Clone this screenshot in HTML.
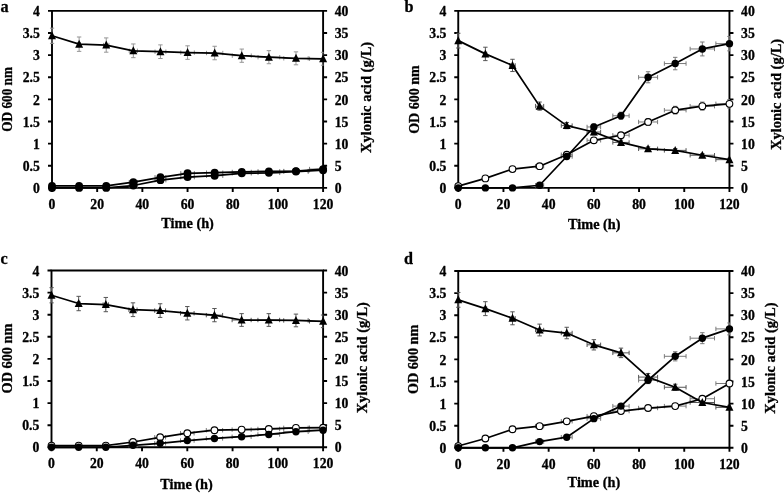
<!DOCTYPE html>
<html lang="en"><head><meta charset="utf-8"><title>Figure</title>
<style>html,body{margin:0;padding:0;background:#fff}body{width:784px;height:493px;overflow:hidden}svg{display:block}text{stroke:#000;stroke-width:.3px;stroke-linejoin:round}</style>
</head><body>
<svg width="784" height="493" viewBox="0 0 784 493" font-family="'Liberation Serif', serif" font-weight="bold" fill="#000">
<rect width="784" height="493" fill="#fff" stroke="none"/>
<g id="panel-a">
<text x="0.4" y="11.8" font-size="16.2">a</text>
<g stroke="#000" stroke-width="1.9" fill="none" stroke-linecap="butt">
<path d="M52 10.9H323.1V187.9H52Z"/>
<path d="M48 187.9H52M323.1 187.9H327.1M48 165.78H52M323.1 165.78H327.1M48 143.65H52M323.1 143.65H327.1M48 121.53H52M323.1 121.53H327.1M48 99.4H52M323.1 99.4H327.1M48 77.28H52M323.1 77.28H327.1M48 55.15H52M323.1 55.15H327.1M48 33.03H52M323.1 33.03H327.1M48 10.9H52M323.1 10.9H327.1M52 187.9V191.9M97.18 187.9V191.9M142.37 187.9V191.9M187.55 187.9V191.9M232.73 187.9V191.9M277.92 187.9V191.9M323.1 187.9V191.9"/>
</g>
<g font-size="13.7">
<text x="39.8" y="193" text-anchor="end">0</text>
<text x="334.7" y="193">0</text>
<text x="39.8" y="170.88" text-anchor="end">0.5</text>
<text x="334.7" y="170.88">5</text>
<text x="39.8" y="148.75" text-anchor="end">1</text>
<text x="334.7" y="148.75">10</text>
<text x="39.8" y="126.62" text-anchor="end">1.5</text>
<text x="334.7" y="126.62">15</text>
<text x="39.8" y="104.5" text-anchor="end">2</text>
<text x="334.7" y="104.5">20</text>
<text x="39.8" y="82.38" text-anchor="end">2.5</text>
<text x="334.7" y="82.38">25</text>
<text x="39.8" y="60.25" text-anchor="end">3</text>
<text x="334.7" y="60.25">30</text>
<text x="39.8" y="38.13" text-anchor="end">3.5</text>
<text x="334.7" y="38.13">35</text>
<text x="39.8" y="16" text-anchor="end">4</text>
<text x="334.7" y="16">40</text>
<text x="52" y="208.7" text-anchor="middle">0</text>
<text x="97.18" y="208.7" text-anchor="middle">20</text>
<text x="142.37" y="208.7" text-anchor="middle">40</text>
<text x="187.55" y="208.7" text-anchor="middle">60</text>
<text x="232.73" y="208.7" text-anchor="middle">80</text>
<text x="277.92" y="208.7" text-anchor="middle">100</text>
<text x="323.1" y="208.7" text-anchor="middle">120</text>
</g>
<text x="187.6" y="228.4" font-size="14.3" text-anchor="middle">Time (h)</text>
<text transform="translate(11.5 99.4) rotate(-90) scale(0.927 1)" font-size="14.3" text-anchor="middle">OD 600 nm</text>
<text transform="translate(370.8 97.4) rotate(-90)" font-size="14.5" text-anchor="middle">Xylonic acid (g/L)</text>
<clipPath id="clip-a"><rect x="49.8" y="10.9" width="273.7" height="177.4"/></clipPath>
<path d="M77.75 185.91H80.47M77.75 183.71V188.11M80.47 183.71V188.11M103.51 185.91H108.93M103.51 183.71V188.11M108.93 183.71V188.11M129.26 182.15H137.4M129.26 179.95V184.35M137.4 179.95V184.35M155.02 177.28H165.86M155.02 175.08V179.48M165.86 175.08V179.48M160.44 176.75V177.81M158.24 176.75H162.64M158.24 177.81H162.64M180.77 173.3H194.33M180.77 171.1V175.5M194.33 171.1V175.5M187.55 172.57V174.03M185.35 172.57H189.75M185.35 174.03H189.75M206.53 172.68H222.79M206.53 170.48V174.88M222.79 170.48V174.88M214.66 171.92V173.44M212.46 171.92H216.86M212.46 173.44H216.86M232.28 171.97H251.26M232.28 169.77V174.17M251.26 169.77V174.17M241.77 171.17V172.77M239.57 171.17H243.97M239.57 172.77H243.97M258.04 171.35H279.72M258.04 169.15V173.55M279.72 169.15V173.55M268.88 170.52V172.18M266.68 170.52H271.08M266.68 172.18H271.08M283.79 171.09H308.19M283.79 168.89V173.28M308.19 168.89V173.28M295.99 170.24V171.93M293.79 170.24H298.19M293.79 171.93H298.19M309.55 169.09H336.66M309.55 166.89V171.29M336.66 166.89V171.29M323.1 168.15V170.03M320.9 168.15H325.3M320.9 170.03H325.3" stroke="#7a7a7a" stroke-width="1" fill="none" clip-path="url(#clip-a)"/>
<path d="M52 28.16V43.38M49.8 28.16H54.2M49.8 43.38H54.2M77.75 44.18H80.47M77.75 41.98V46.38M80.47 41.98V46.38M79.11 36.99V51.36M76.91 36.99H81.31M76.91 51.36H81.31M103.51 45.06H108.93M103.51 42.86V47.26M108.93 42.86V47.26M106.22 37.92V52.2M104.02 37.92H108.42M104.02 52.2H108.42M129.26 50.81H137.4M129.26 48.61V53.01M137.4 48.61V53.01M133.33 43.96V57.67M131.13 43.96H135.53M131.13 57.67H135.53M155.02 51.7H165.86M155.02 49.5V53.9M165.86 49.5V53.9M160.44 44.89V58.51M158.24 44.89H162.64M158.24 58.51H162.64M180.77 52.58H194.33M180.77 50.38V54.78M194.33 50.38V54.78M187.55 45.82V59.35M185.35 45.82H189.75M185.35 59.35H189.75M206.53 53.03H222.79M206.53 50.83V55.23M222.79 50.83V55.23M214.66 46.28V59.77M212.46 46.28H216.86M212.46 59.77H216.86M232.28 55.68H251.26M232.28 53.48V57.88M251.26 53.48V57.88M241.77 49.07V62.29M239.57 49.07H243.97M239.57 62.29H243.97M258.04 57.19H279.72M258.04 54.99V59.39M279.72 54.99V59.39M268.88 50.65V63.72M266.68 50.65H271.08M266.68 63.72H271.08M283.79 58.34H308.19M283.79 56.14V60.54M308.19 56.14V60.54M295.99 51.86V64.81M293.79 51.86H298.19M293.79 64.81H298.19M309.55 58.78H336.66M309.55 56.58V60.98M336.66 56.58V60.98M323.1 52.32V65.23M320.9 52.32H325.3M320.9 65.23H325.3" stroke="#959595" stroke-width="1" fill="none" clip-path="url(#clip-a)"/>
<path d="M77.75 187.9H80.47M77.75 185.7V190.1M80.47 185.7V190.1M103.51 187.9H108.93M103.51 185.7V190.1M108.93 185.7V190.1M129.26 185.51H137.4M129.26 183.31V187.71M137.4 183.31V187.71M155.02 180.16H165.86M155.02 177.96V182.36M165.86 177.96V182.36M160.44 179.77V180.54M158.24 179.77H162.64M158.24 180.54H162.64M180.77 177.1H194.33M180.77 174.9V179.3M194.33 174.9V179.3M187.55 176.56V177.64M185.35 176.56H189.75M185.35 177.64H189.75M206.53 175.73H222.79M206.53 173.53V177.93M222.79 173.53V177.93M214.66 175.12V176.34M212.46 175.12H216.86M212.46 176.34H216.86M232.28 173.3H251.26M232.28 171.1V175.5M251.26 171.1V175.5M241.77 172.57V174.03M239.57 172.57H243.97M239.57 174.03H243.97M258.04 172.86H279.72M258.04 170.66V175.06M279.72 170.66V175.06M268.88 172.1V173.61M266.68 172.1H271.08M266.68 173.61H271.08M283.79 171.53H308.19M283.79 169.33V173.73M308.19 169.33V173.73M295.99 170.71V172.35M293.79 170.71H298.19M293.79 172.35H298.19M309.55 170.2H336.66M309.55 168V172.4M336.66 168V172.4M323.1 169.32V171.09M320.9 169.32H325.3M320.9 171.09H325.3" stroke="#7a7a7a" stroke-width="1" fill="none" clip-path="url(#clip-a)"/>
<polyline points="52,185.91 79.11,185.91 106.22,185.91 133.33,182.15 160.44,177.28 187.55,173.3 214.66,172.68 241.77,171.97 268.88,171.35 295.99,171.09 323.1,169.09" fill="none" stroke="#000" stroke-width="1.75" stroke-linejoin="round"/>
<circle cx="52" cy="185.91" r="3.95" fill="#000"/>
<circle cx="79.11" cy="185.91" r="3.95" fill="#000"/>
<circle cx="106.22" cy="185.91" r="3.95" fill="#000"/>
<circle cx="133.33" cy="182.15" r="3.95" fill="#000"/>
<circle cx="160.44" cy="177.28" r="3.95" fill="#000"/>
<circle cx="187.55" cy="173.3" r="3.95" fill="#000"/>
<circle cx="214.66" cy="172.68" r="3.95" fill="#000"/>
<circle cx="241.77" cy="171.97" r="3.95" fill="#000"/>
<circle cx="268.88" cy="171.35" r="3.95" fill="#000"/>
<circle cx="295.99" cy="171.09" r="3.95" fill="#000"/>
<circle cx="323.1" cy="169.09" r="3.95" fill="#000"/>
<polyline points="52,35.77 79.11,44.18 106.22,45.06 133.33,50.81 160.44,51.7 187.55,52.58 214.66,53.03 241.77,55.68 268.88,57.19 295.99,58.34 323.1,58.78" fill="none" stroke="#000" stroke-width="1.75" stroke-linejoin="round"/>
<path d="M52 31.27L56 39.27H48Z" fill="#000"/>
<path d="M79.11 39.68L83.11 47.68H75.11Z" fill="#000"/>
<path d="M106.22 40.56L110.22 48.56H102.22Z" fill="#000"/>
<path d="M133.33 46.31L137.33 54.31H129.33Z" fill="#000"/>
<path d="M160.44 47.2L164.44 55.2H156.44Z" fill="#000"/>
<path d="M187.55 48.08L191.55 56.08H183.55Z" fill="#000"/>
<path d="M214.66 48.53L218.66 56.53H210.66Z" fill="#000"/>
<path d="M241.77 51.18L245.77 59.18H237.77Z" fill="#000"/>
<path d="M268.88 52.69L272.88 60.69H264.88Z" fill="#000"/>
<path d="M295.99 53.84L299.99 61.84H291.99Z" fill="#000"/>
<path d="M323.1 54.28L327.1 62.28H319.1Z" fill="#000"/>
<polyline points="52,187.9 79.11,187.9 106.22,187.9 133.33,185.51 160.44,180.16 187.55,177.1 214.66,175.73 241.77,173.3 268.88,172.86 295.99,171.53 323.1,170.2" fill="none" stroke="#000" stroke-width="1.75" stroke-linejoin="round"/>
<circle cx="52" cy="187.9" r="3.95" fill="#000"/>
<circle cx="79.11" cy="187.9" r="3.95" fill="#000"/>
<circle cx="106.22" cy="187.9" r="3.95" fill="#000"/>
<circle cx="133.33" cy="185.51" r="3.95" fill="#000"/>
<circle cx="160.44" cy="180.16" r="3.95" fill="#000"/>
<circle cx="187.55" cy="177.1" r="3.95" fill="#000"/>
<circle cx="214.66" cy="175.73" r="3.95" fill="#000"/>
<circle cx="241.77" cy="173.3" r="3.95" fill="#000"/>
<circle cx="268.88" cy="172.86" r="3.95" fill="#000"/>
<circle cx="295.99" cy="171.53" r="3.95" fill="#000"/>
<circle cx="323.1" cy="170.2" r="3.95" fill="#000"/>
</g>
<g id="panel-b">
<text x="404.4" y="11.8" font-size="16.2">b</text>
<g stroke="#000" stroke-width="1.9" fill="none" stroke-linecap="butt">
<path d="M458.25 10.9H729.45V187.9H458.25Z"/>
<path d="M454.25 187.9H458.25M729.45 187.9H733.45M454.25 165.78H458.25M729.45 165.78H733.45M454.25 143.65H458.25M729.45 143.65H733.45M454.25 121.53H458.25M729.45 121.53H733.45M454.25 99.4H458.25M729.45 99.4H733.45M454.25 77.28H458.25M729.45 77.28H733.45M454.25 55.15H458.25M729.45 55.15H733.45M454.25 33.03H458.25M729.45 33.03H733.45M454.25 10.9H458.25M729.45 10.9H733.45M458.25 187.9V191.9M503.45 187.9V191.9M548.65 187.9V191.9M593.85 187.9V191.9M639.05 187.9V191.9M684.25 187.9V191.9M729.45 187.9V191.9"/>
</g>
<g font-size="13.7">
<text x="446.4" y="193" text-anchor="end">0</text>
<text x="741.05" y="193">0</text>
<text x="446.4" y="170.88" text-anchor="end">0.5</text>
<text x="741.05" y="170.88">5</text>
<text x="446.4" y="148.75" text-anchor="end">1</text>
<text x="741.05" y="148.75">10</text>
<text x="446.4" y="126.62" text-anchor="end">1.5</text>
<text x="741.05" y="126.62">15</text>
<text x="446.4" y="104.5" text-anchor="end">2</text>
<text x="741.05" y="104.5">20</text>
<text x="446.4" y="82.38" text-anchor="end">2.5</text>
<text x="741.05" y="82.38">25</text>
<text x="446.4" y="60.25" text-anchor="end">3</text>
<text x="741.05" y="60.25">30</text>
<text x="446.4" y="38.13" text-anchor="end">3.5</text>
<text x="741.05" y="38.13">35</text>
<text x="446.4" y="16" text-anchor="end">4</text>
<text x="741.05" y="16">40</text>
<text x="458.25" y="208.7" text-anchor="middle">0</text>
<text x="503.45" y="208.7" text-anchor="middle">20</text>
<text x="548.65" y="208.7" text-anchor="middle">40</text>
<text x="593.85" y="208.7" text-anchor="middle">60</text>
<text x="639.05" y="208.7" text-anchor="middle">80</text>
<text x="684.25" y="208.7" text-anchor="middle">100</text>
<text x="729.45" y="208.7" text-anchor="middle">120</text>
</g>
<text x="594.25" y="229.4" font-size="14.3" text-anchor="middle">Time (h)</text>
<text transform="translate(418.8 99.6) rotate(-90) scale(0.979 1)" font-size="14.3" text-anchor="middle">OD 600 nm</text>
<text transform="translate(780.8 94.4) rotate(-90)" font-size="14.5" text-anchor="middle">Xylonic acid (g/L)</text>
<clipPath id="clip-b"><rect x="456.05" y="10.9" width="273.8" height="177.4"/></clipPath>
<path d="M484.01 178.39H486.73M484.01 176.19V180.59M486.73 176.19V180.59M485.37 177.91V178.86M483.17 177.91H487.57M483.17 178.86H487.57M509.78 169.09H515.2M509.78 166.89V171.29M515.2 166.89V171.29M512.49 168.15V170.03M510.29 168.15H514.69M510.29 170.03H514.69M535.54 166.22H543.68M535.54 164.02V168.42M543.68 164.02V168.42M539.61 165.13V167.3M537.41 165.13H541.81M537.41 167.3H541.81M561.31 154.71H572.15M561.31 152.51V156.91M572.15 152.51V156.91M566.73 153.05V156.37M564.53 153.05H568.93M564.53 156.37H568.93M587.07 140.29H600.63M587.07 138.09V142.49M600.63 138.09V142.49M593.85 137.91V142.67M591.65 137.91H596.05M591.65 142.67H596.05M612.83 135.24H629.11M612.83 133.04V137.44M629.11 133.04V137.44M620.97 132.61V137.88M618.77 132.61H623.17M618.77 137.88H623.17M638.6 121.97H657.58M638.6 119.77V124.17M657.58 119.77V124.17M648.09 118.67V125.26M645.89 118.67H650.29M645.89 125.26H650.29M664.36 110.2H686.06M664.36 108V112.4M686.06 108V112.4M675.21 106.31V114.08M673.01 106.31H677.41M673.01 114.08H677.41M690.13 106.17H714.53M690.13 103.97V108.37M714.53 103.97V108.37M702.33 102.08V110.26M700.13 102.08H704.53M700.13 110.26H704.53M715.89 103.83H743.01M715.89 101.62V106.03M743.01 101.62V106.03M729.45 99.62V108.03M727.25 99.62H731.65M727.25 108.03H731.65" stroke="#7a7a7a" stroke-width="1" fill="none" clip-path="url(#clip-b)"/>
<path d="M458.25 33.27V48M456.05 33.27H460.45M456.05 48H460.45M484.01 53.91H486.73M484.01 51.71V56.11M486.73 51.71V56.11M485.37 47.21V60.61M483.17 47.21H487.57M483.17 60.61H487.57M509.78 65.42H515.2M509.78 63.22V67.62M515.2 63.22V67.62M512.49 59.29V71.54M510.29 59.29H514.69M510.29 71.54H514.69M535.54 106.13H543.68M535.54 103.93V108.33M543.68 103.93V108.33M539.61 102.04V110.21M537.41 102.04H541.81M537.41 110.21H541.81M561.31 125.6H572.15M561.31 123.4V127.8M572.15 123.4V127.8M566.73 122.48V128.71M564.53 122.48H568.93M564.53 128.71H568.93M587.07 132.01H600.63M587.07 129.81V134.21M600.63 129.81V134.21M593.85 129.22V134.81M591.65 129.22H596.05M591.65 134.81H596.05M612.83 142.41H629.11M612.83 140.21V144.61M629.11 140.21V144.61M620.97 140.14V144.69M618.77 140.14H623.17M618.77 144.69H623.17M638.6 148.83H657.58M638.6 146.63V151.03M657.58 146.63V151.03M648.09 146.87V150.78M645.89 146.87H650.29M645.89 150.78H650.29M664.36 150.38H686.06M664.36 148.18V152.58M686.06 148.18V152.58M675.21 148.5V152.25M673.01 148.5H677.41M673.01 152.25H677.41M690.13 155.24H714.53M690.13 153.04V157.44M714.53 153.04V157.44M702.33 153.61V156.88M700.13 153.61H704.53M700.13 156.88H704.53M715.89 159.67H743.01M715.89 157.47V161.87M743.01 157.47V161.87M729.45 158.26V161.08M727.25 158.26H731.65M727.25 161.08H731.65" stroke="#555" stroke-width="1" fill="none" clip-path="url(#clip-b)"/>
<path d="M484.01 187.9H486.73M484.01 185.7V190.1M486.73 185.7V190.1M509.78 187.9H515.2M509.78 185.7V190.1M515.2 185.7V190.1M535.54 185.25H543.68M535.54 183.05V187.44M543.68 183.05V187.44M561.31 156.48H572.15M561.31 154.28V158.68M572.15 154.28V158.68M566.73 154.91V158.05M564.53 154.91H568.93M564.53 158.05H568.93M587.07 126.97H600.63M587.07 124.77V129.17M600.63 124.77V129.17M593.85 123.92V130.01M591.65 123.92H596.05M591.65 130.01H596.05M612.83 115.77H629.11M612.83 113.57V117.97M629.11 113.57V117.97M620.97 112.17V119.38M618.77 112.17H623.17M618.77 119.38H623.17M638.6 77.28H657.58M638.6 75.08V79.48M657.58 75.08V79.48M648.09 71.74V82.81M645.89 71.74H650.29M645.89 82.81H650.29M664.36 63.56H686.06M664.36 61.36V65.76M686.06 61.36V65.76M675.21 57.34V69.77M673.01 57.34H677.41M673.01 69.77H677.41M690.13 48.96H714.53M690.13 46.76V51.16M714.53 46.76V51.16M702.33 42.01V55.9M700.13 42.01H704.53M700.13 55.9H704.53M715.89 43.65H743.01M715.89 41.45V45.85M743.01 41.45V45.85M729.45 36.43V50.86M727.25 36.43H731.65M727.25 50.86H731.65" stroke="#7a7a7a" stroke-width="1" fill="none" clip-path="url(#clip-b)"/>
<polyline points="458.25,186.13 485.37,178.39 512.49,169.09 539.61,166.22 566.73,154.71 593.85,140.29 620.97,135.24 648.09,121.97 675.21,110.2 702.33,106.17 729.45,103.83" fill="none" stroke="#000" stroke-width="1.75" stroke-linejoin="round"/>
<circle cx="458.25" cy="186.13" r="3.35" fill="#fff" stroke="#000" stroke-width="1.1"/>
<circle cx="485.37" cy="178.39" r="3.35" fill="#fff" stroke="#000" stroke-width="1.1"/>
<circle cx="512.49" cy="169.09" r="3.35" fill="#fff" stroke="#000" stroke-width="1.1"/>
<circle cx="539.61" cy="166.22" r="3.35" fill="#fff" stroke="#000" stroke-width="1.1"/>
<circle cx="566.73" cy="154.71" r="3.35" fill="#fff" stroke="#000" stroke-width="1.1"/>
<circle cx="593.85" cy="140.29" r="3.35" fill="#fff" stroke="#000" stroke-width="1.1"/>
<circle cx="620.97" cy="135.24" r="3.35" fill="#fff" stroke="#000" stroke-width="1.1"/>
<circle cx="648.09" cy="121.97" r="3.35" fill="#fff" stroke="#000" stroke-width="1.1"/>
<circle cx="675.21" cy="110.2" r="3.35" fill="#fff" stroke="#000" stroke-width="1.1"/>
<circle cx="702.33" cy="106.17" r="3.35" fill="#fff" stroke="#000" stroke-width="1.1"/>
<circle cx="729.45" cy="103.83" r="3.35" fill="#fff" stroke="#000" stroke-width="1.1"/>
<polyline points="458.25,40.64 485.37,53.91 512.49,65.42 539.61,106.13 566.73,125.6 593.85,132.01 620.97,142.41 648.09,148.83 675.21,150.38 702.33,155.24 729.45,159.67" fill="none" stroke="#000" stroke-width="1.75" stroke-linejoin="round"/>
<path d="M458.25 36.14L462.25 44.14H454.25Z" fill="#000"/>
<path d="M485.37 49.41L489.37 57.41H481.37Z" fill="#000"/>
<path d="M512.49 60.92L516.49 68.92H508.49Z" fill="#000"/>
<path d="M539.61 101.63L543.61 109.63H535.61Z" fill="#000"/>
<path d="M566.73 121.1L570.73 129.1H562.73Z" fill="#000"/>
<path d="M593.85 127.51L597.85 135.51H589.85Z" fill="#000"/>
<path d="M620.97 137.91L624.97 145.91H616.97Z" fill="#000"/>
<path d="M648.09 144.33L652.09 152.33H644.09Z" fill="#000"/>
<path d="M675.21 145.88L679.21 153.88H671.21Z" fill="#000"/>
<path d="M702.33 150.74L706.33 158.74H698.33Z" fill="#000"/>
<path d="M729.45 155.17L733.45 163.17H725.45Z" fill="#000"/>
<polyline points="458.25,187.9 485.37,187.9 512.49,187.9 539.61,185.25 566.73,156.48 593.85,126.97 620.97,115.77 648.09,77.28 675.21,63.56 702.33,48.96 729.45,43.65" fill="none" stroke="#000" stroke-width="1.75" stroke-linejoin="round"/>
<circle cx="458.25" cy="187.9" r="3.7" fill="#000"/>
<circle cx="485.37" cy="187.9" r="3.7" fill="#000"/>
<circle cx="512.49" cy="187.9" r="3.7" fill="#000"/>
<circle cx="539.61" cy="185.25" r="3.7" fill="#000"/>
<circle cx="566.73" cy="156.48" r="3.7" fill="#000"/>
<circle cx="593.85" cy="126.97" r="3.7" fill="#000"/>
<circle cx="620.97" cy="115.77" r="3.7" fill="#000"/>
<circle cx="648.09" cy="77.28" r="3.7" fill="#000"/>
<circle cx="675.21" cy="63.56" r="3.7" fill="#000"/>
<circle cx="702.33" cy="48.96" r="3.7" fill="#000"/>
<circle cx="729.45" cy="43.65" r="3.7" fill="#000"/>
</g>
<g id="panel-c">
<text x="0.4" y="263.6" font-size="16.2">c</text>
<g stroke="#000" stroke-width="1.9" fill="none" stroke-linecap="butt">
<path d="M51.5 270.5H323.1V447.3H51.5Z"/>
<path d="M47.5 447.3H51.5M323.1 447.3H327.1M47.5 425.2H51.5M323.1 425.2H327.1M47.5 403.1H51.5M323.1 403.1H327.1M47.5 381H51.5M323.1 381H327.1M47.5 358.9H51.5M323.1 358.9H327.1M47.5 336.8H51.5M323.1 336.8H327.1M47.5 314.7H51.5M323.1 314.7H327.1M47.5 292.6H51.5M323.1 292.6H327.1M47.5 270.5H51.5M323.1 270.5H327.1M51.5 447.3V451.3M96.77 447.3V451.3M142.03 447.3V451.3M187.3 447.3V451.3M232.57 447.3V451.3M277.83 447.3V451.3M323.1 447.3V451.3"/>
</g>
<g font-size="13.7">
<text x="39.3" y="452.4" text-anchor="end">0</text>
<text x="334.7" y="452.4">0</text>
<text x="39.3" y="430.3" text-anchor="end">0.5</text>
<text x="334.7" y="430.3">5</text>
<text x="39.3" y="408.2" text-anchor="end">1</text>
<text x="334.7" y="408.2">10</text>
<text x="39.3" y="386.1" text-anchor="end">1.5</text>
<text x="334.7" y="386.1">15</text>
<text x="39.3" y="364" text-anchor="end">2</text>
<text x="334.7" y="364">20</text>
<text x="39.3" y="341.9" text-anchor="end">2.5</text>
<text x="334.7" y="341.9">25</text>
<text x="39.3" y="319.8" text-anchor="end">3</text>
<text x="334.7" y="319.8">30</text>
<text x="39.3" y="297.7" text-anchor="end">3.5</text>
<text x="334.7" y="297.7">35</text>
<text x="39.3" y="275.6" text-anchor="end">4</text>
<text x="334.7" y="275.6">40</text>
<text x="51.5" y="468.1" text-anchor="middle">0</text>
<text x="96.77" y="468.1" text-anchor="middle">20</text>
<text x="142.03" y="468.1" text-anchor="middle">40</text>
<text x="187.3" y="468.1" text-anchor="middle">60</text>
<text x="232.57" y="468.1" text-anchor="middle">80</text>
<text x="277.83" y="468.1" text-anchor="middle">100</text>
<text x="323.1" y="468.1" text-anchor="middle">120</text>
</g>
<text x="186.5" y="488.6" font-size="14.3" text-anchor="middle">Time (h)</text>
<text transform="translate(11.5 358.5) rotate(-90) scale(1.0 1)" font-size="14.3" text-anchor="middle">OD 600 nm</text>
<text transform="translate(367.3 357.7) rotate(-90)" font-size="14.5" text-anchor="middle">Xylonic acid (g/L)</text>
<clipPath id="clip-c"><rect x="49.3" y="270.5" width="274.2" height="177.2"/></clipPath>
<path d="M77.3 445.53H80.02M77.3 443.33V447.73M80.02 443.33V447.73M103.1 445.53H108.54M103.1 443.33V447.73M108.54 443.33V447.73M128.91 442H137.05M128.91 439.8V444.2M137.05 439.8V444.2M154.71 437.27H165.57M154.71 435.07V439.47M165.57 435.07V439.47M160.14 436.76V437.77M157.94 436.76H162.34M157.94 437.77H162.34M180.51 433.24H194.09M180.51 431.04V435.44M194.09 431.04V435.44M187.3 432.54V433.95M185.1 432.54H189.5M185.1 433.95H189.5M206.31 430.24H222.61M206.31 428.04V432.44M222.61 428.04V432.44M214.46 429.39V431.09M212.26 429.39H216.66M212.26 431.09H216.66M232.11 429.62H251.13M232.11 427.42V431.82M251.13 427.42V431.82M241.62 428.74V430.5M239.42 428.74H243.82M239.42 430.5H243.82M257.92 428.96H279.64M257.92 426.76V431.16M279.64 426.76V431.16M268.78 428.04V429.87M266.58 428.04H270.98M266.58 429.87H270.98M283.72 427.85H308.16M283.72 425.65V430.05M308.16 425.65V430.05M295.94 426.88V428.82M293.74 426.88H298.14M293.74 428.82H298.14M309.52 427.72H336.68M309.52 425.52V429.92M336.68 425.52V429.92M323.1 426.74V428.7M320.9 426.74H325.3M320.9 428.7H325.3" stroke="#7a7a7a" stroke-width="1" fill="none" clip-path="url(#clip-c)"/>
<path d="M51.5 287.65V302.85M49.3 287.65H53.7M49.3 302.85H53.7M77.3 303.52H80.02M77.3 301.32V305.72M80.02 301.32V305.72M78.66 296.33V310.71M76.46 296.33H80.86M76.46 310.71H80.86M103.1 304.58H108.54M103.1 302.38V306.78M108.54 302.38V306.78M105.82 297.44V311.71M103.62 297.44H108.02M103.62 311.71H108.02M128.91 309.71H137.05M128.91 307.51V311.91M137.05 307.51V311.91M132.98 302.83V316.59M130.78 302.83H135.18M130.78 316.59H135.18M154.71 310.59H165.57M154.71 308.39V312.79M165.57 308.39V312.79M160.14 303.75V317.42M157.94 303.75H162.34M157.94 317.42H162.34M180.51 313.24H194.09M180.51 311.04V315.44M194.09 311.04V315.44M187.3 306.54V319.94M185.1 306.54H189.5M185.1 319.94H189.5M206.31 315.14H222.61M206.31 312.94V317.34M222.61 312.94V317.34M214.46 308.53V321.75M212.26 308.53H216.66M212.26 321.75H216.66M232.11 320H251.13M232.11 317.8V322.2M251.13 317.8V322.2M241.62 313.64V326.37M239.42 313.64H243.82M239.42 326.37H243.82M257.92 320H279.64M257.92 317.8V322.2M279.64 317.8V322.2M268.78 313.64V326.37M266.58 313.64H270.98M266.58 326.37H270.98M283.72 320.45H308.16M283.72 318.25V322.65M308.16 318.25V322.65M295.94 314.1V326.79M293.74 314.1H298.14M293.74 326.79H298.14M309.52 321.33H336.68M309.52 319.13V323.53M336.68 319.13V323.53M323.1 315.03V327.63M320.9 315.03H325.3M320.9 327.63H325.3" stroke="#555" stroke-width="1" fill="none" clip-path="url(#clip-c)"/>
<path d="M77.3 447.3H80.02M77.3 445.1V449.5M80.02 445.1V449.5M103.1 447.3H108.54M103.1 445.1V449.5M108.54 445.1V449.5M128.91 445.31H137.05M128.91 443.11V447.51M137.05 443.11V447.51M154.71 443.32H165.57M154.71 441.12V445.52M165.57 441.12V445.52M180.51 440.54H194.09M180.51 438.34V442.74M194.09 438.34V442.74M187.3 440.2V440.88M185.1 440.2H189.5M185.1 440.88H189.5M206.31 438.46H222.61M206.31 436.26V440.66M222.61 436.26V440.66M214.46 438.02V438.9M212.26 438.02H216.66M212.26 438.9H216.66M232.11 436.74H251.13M232.11 434.54V438.94M251.13 434.54V438.94M241.62 436.21V437.26M239.42 436.21H243.82M239.42 437.26H243.82M257.92 434.48H279.64M257.92 432.28V436.68M279.64 432.28V436.68M268.78 433.84V435.12M266.58 433.84H270.98M266.58 435.12H270.98M283.72 431.74H308.16M283.72 429.54V433.94M308.16 429.54V433.94M295.94 430.96V432.52M293.74 430.96H298.14M293.74 432.52H298.14M309.52 430.24H336.68M309.52 428.04V432.44M336.68 428.04V432.44M323.1 429.39V431.09M320.9 429.39H325.3M320.9 431.09H325.3" stroke="#7a7a7a" stroke-width="1" fill="none" clip-path="url(#clip-c)"/>
<polyline points="51.5,445.53 78.66,445.53 105.82,445.53 132.98,442 160.14,437.27 187.3,433.24 214.46,430.24 241.62,429.62 268.78,428.96 295.94,427.85 323.1,427.72" fill="none" stroke="#000" stroke-width="1.75" stroke-linejoin="round"/>
<circle cx="51.5" cy="445.53" r="3.35" fill="#fff" stroke="#000" stroke-width="1.1"/>
<circle cx="78.66" cy="445.53" r="3.35" fill="#fff" stroke="#000" stroke-width="1.1"/>
<circle cx="105.82" cy="445.53" r="3.35" fill="#fff" stroke="#000" stroke-width="1.1"/>
<circle cx="132.98" cy="442" r="3.35" fill="#fff" stroke="#000" stroke-width="1.1"/>
<circle cx="160.14" cy="437.27" r="3.35" fill="#fff" stroke="#000" stroke-width="1.1"/>
<circle cx="187.3" cy="433.24" r="3.35" fill="#fff" stroke="#000" stroke-width="1.1"/>
<circle cx="214.46" cy="430.24" r="3.35" fill="#fff" stroke="#000" stroke-width="1.1"/>
<circle cx="241.62" cy="429.62" r="3.35" fill="#fff" stroke="#000" stroke-width="1.1"/>
<circle cx="268.78" cy="428.96" r="3.35" fill="#fff" stroke="#000" stroke-width="1.1"/>
<circle cx="295.94" cy="427.85" r="3.35" fill="#fff" stroke="#000" stroke-width="1.1"/>
<circle cx="323.1" cy="427.72" r="3.35" fill="#fff" stroke="#000" stroke-width="1.1"/>
<polyline points="51.5,295.25 78.66,303.52 105.82,304.58 132.98,309.71 160.14,310.59 187.3,313.24 214.46,315.14 241.62,320 268.78,320 295.94,320.45 323.1,321.33" fill="none" stroke="#000" stroke-width="1.75" stroke-linejoin="round"/>
<path d="M51.5 290.75L55.5 298.75H47.5Z" fill="#000"/>
<path d="M78.66 299.02L82.66 307.02H74.66Z" fill="#000"/>
<path d="M105.82 300.08L109.82 308.08H101.82Z" fill="#000"/>
<path d="M132.98 305.21L136.98 313.21H128.98Z" fill="#000"/>
<path d="M160.14 306.09L164.14 314.09H156.14Z" fill="#000"/>
<path d="M187.3 308.74L191.3 316.74H183.3Z" fill="#000"/>
<path d="M214.46 310.64L218.46 318.64H210.46Z" fill="#000"/>
<path d="M241.62 315.5L245.62 323.5H237.62Z" fill="#000"/>
<path d="M268.78 315.5L272.78 323.5H264.78Z" fill="#000"/>
<path d="M295.94 315.95L299.94 323.95H291.94Z" fill="#000"/>
<path d="M323.1 316.83L327.1 324.83H319.1Z" fill="#000"/>
<polyline points="51.5,447.3 78.66,447.3 105.82,447.3 132.98,445.31 160.14,443.32 187.3,440.54 214.46,438.46 241.62,436.74 268.78,434.48 295.94,431.74 323.1,430.24" fill="none" stroke="#000" stroke-width="1.75" stroke-linejoin="round"/>
<circle cx="51.5" cy="447.3" r="3.7" fill="#000"/>
<circle cx="78.66" cy="447.3" r="3.7" fill="#000"/>
<circle cx="105.82" cy="447.3" r="3.7" fill="#000"/>
<circle cx="132.98" cy="445.31" r="3.7" fill="#000"/>
<circle cx="160.14" cy="443.32" r="3.7" fill="#000"/>
<circle cx="187.3" cy="440.54" r="3.7" fill="#000"/>
<circle cx="214.46" cy="438.46" r="3.7" fill="#000"/>
<circle cx="241.62" cy="436.74" r="3.7" fill="#000"/>
<circle cx="268.78" cy="434.48" r="3.7" fill="#000"/>
<circle cx="295.94" cy="431.74" r="3.7" fill="#000"/>
<circle cx="323.1" cy="430.24" r="3.7" fill="#000"/>
</g>
<g id="panel-d">
<text x="404.0" y="263.6" font-size="16.2">d</text>
<g stroke="#000" stroke-width="1.9" fill="none" stroke-linecap="butt">
<path d="M458.25 271H729.45V447.8H458.25Z"/>
<path d="M454.25 447.8H458.25M729.45 447.8H733.45M454.25 425.7H458.25M729.45 425.7H733.45M454.25 403.6H458.25M729.45 403.6H733.45M454.25 381.5H458.25M729.45 381.5H733.45M454.25 359.4H458.25M729.45 359.4H733.45M454.25 337.3H458.25M729.45 337.3H733.45M454.25 315.2H458.25M729.45 315.2H733.45M454.25 293.1H458.25M729.45 293.1H733.45M454.25 271H458.25M729.45 271H733.45M458.25 447.8V451.8M503.45 447.8V451.8M548.65 447.8V451.8M593.85 447.8V451.8M639.05 447.8V451.8M684.25 447.8V451.8M729.45 447.8V451.8"/>
</g>
<g font-size="13.7">
<text x="446.4" y="452.9" text-anchor="end">0</text>
<text x="741.05" y="452.9">0</text>
<text x="446.4" y="430.8" text-anchor="end">0.5</text>
<text x="741.05" y="430.8">5</text>
<text x="446.4" y="408.7" text-anchor="end">1</text>
<text x="741.05" y="408.7">10</text>
<text x="446.4" y="386.6" text-anchor="end">1.5</text>
<text x="741.05" y="386.6">15</text>
<text x="446.4" y="364.5" text-anchor="end">2</text>
<text x="741.05" y="364.5">20</text>
<text x="446.4" y="342.4" text-anchor="end">2.5</text>
<text x="741.05" y="342.4">25</text>
<text x="446.4" y="320.3" text-anchor="end">3</text>
<text x="741.05" y="320.3">30</text>
<text x="446.4" y="298.2" text-anchor="end">3.5</text>
<text x="741.05" y="298.2">35</text>
<text x="446.4" y="276.1" text-anchor="end">4</text>
<text x="741.05" y="276.1">40</text>
<text x="458.25" y="468.6" text-anchor="middle">0</text>
<text x="503.45" y="468.6" text-anchor="middle">20</text>
<text x="548.65" y="468.6" text-anchor="middle">40</text>
<text x="593.85" y="468.6" text-anchor="middle">60</text>
<text x="639.05" y="468.6" text-anchor="middle">80</text>
<text x="684.25" y="468.6" text-anchor="middle">100</text>
<text x="729.45" y="468.6" text-anchor="middle">120</text>
</g>
<text x="593.9" y="486.6" font-size="14.3" text-anchor="middle">Time (h)</text>
<text transform="translate(418.2 359.4) rotate(-90) scale(0.99 1)" font-size="14.3" text-anchor="middle">OD 600 nm</text>
<text transform="translate(774.7 358.05) rotate(-90)" font-size="14.5" text-anchor="middle">Xylonic acid (g/L)</text>
<clipPath id="clip-d"><rect x="456.05" y="271" width="273.8" height="177.2"/></clipPath>
<path d="M484.01 438.52H486.73M484.01 436.32V440.72M486.73 436.32V440.72M485.37 438.05V438.98M483.17 438.05H487.57M483.17 438.98H487.57M509.78 429.24H515.2M509.78 427.04V431.44M515.2 427.04V431.44M512.49 428.31V430.16M510.29 428.31H514.69M510.29 430.16H514.69M535.54 426.14H543.68M535.54 423.94V428.34M543.68 423.94V428.34M539.61 425.06V427.22M537.41 425.06H541.81M537.41 427.22H541.81M561.31 421.28H572.15M561.31 419.08V423.48M572.15 419.08V423.48M566.73 419.95V422.61M564.53 419.95H568.93M564.53 422.61H568.93M587.07 416.15H600.63M587.07 413.95V418.35M600.63 413.95V418.35M593.85 414.57V417.74M591.65 414.57H596.05M591.65 417.74H596.05M612.83 411.11H629.11M612.83 408.91V413.31M629.11 408.91V413.31M620.97 409.28V412.95M618.77 409.28H623.17M618.77 412.95H623.17M638.6 408.02H657.58M638.6 405.82V410.22M657.58 405.82V410.22M648.09 406.03V410.01M645.89 406.03H650.29M645.89 410.01H650.29M664.36 406.12H686.06M664.36 403.92V408.32M686.06 403.92V408.32M675.21 404.04V408.2M673.01 404.04H677.41M673.01 408.2H677.41M690.13 398.74H714.53M690.13 396.54V400.94M714.53 396.54V400.94M702.33 396.28V401.19M700.13 396.28H704.53M700.13 401.19H704.53M715.89 383.49H743.01M715.89 381.29V385.69M743.01 381.29V385.69M729.45 380.27V386.7M727.25 380.27H731.65M727.25 386.7H731.65" stroke="#7a7a7a" stroke-width="1" fill="none" clip-path="url(#clip-d)"/>
<path d="M458.25 292.47V307.26M456.05 292.47H460.45M456.05 307.26H460.45M484.01 308.66H486.73M484.01 306.46V310.86M486.73 306.46V310.86M485.37 301.7V315.62M483.17 301.7H487.57M483.17 315.62H487.57M509.78 318.29H515.2M509.78 316.09V320.49M515.2 316.09V320.49M512.49 311.82V324.77M510.29 311.82H514.69M510.29 324.77H514.69M535.54 330.01H543.68M535.54 327.81V332.21M543.68 327.81V332.21M539.61 324.12V335.9M537.41 324.12H541.81M537.41 335.9H541.81M561.31 333.01H572.15M561.31 330.81V335.21M572.15 330.81V335.21M566.73 327.27V338.75M564.53 327.27H568.93M564.53 338.75H568.93M587.07 344.81H600.63M587.07 342.61V347.01M600.63 342.61V347.01M593.85 339.66V349.96M591.65 339.66H596.05M591.65 349.96H596.05M612.83 352.86H629.11M612.83 350.66V355.06M629.11 350.66V355.06M620.97 348.11V357.61M618.77 348.11H623.17M618.77 357.61H623.17M638.6 377.08H657.58M638.6 374.88V379.28M657.58 374.88V379.28M648.09 373.54V380.62M645.89 373.54H650.29M645.89 380.62H650.29M664.36 387.25H686.06M664.36 385.05V389.45M686.06 385.05V389.45M675.21 384.22V390.27M673.01 384.22H677.41M673.01 390.27H677.41M690.13 402.5H714.53M690.13 400.3V404.69M714.53 400.3V404.69M702.33 400.23V404.76M700.13 400.23H704.53M700.13 404.76H704.53M715.89 407.36H743.01M715.89 405.16V409.56M743.01 405.16V409.56M729.45 405.33V409.38M727.25 405.33H731.65M727.25 409.38H731.65" stroke="#555" stroke-width="1" fill="none" clip-path="url(#clip-d)"/>
<path d="M484.01 447.8H486.73M484.01 445.6V450M486.73 445.6V450M509.78 447.8H515.2M509.78 445.6V450M515.2 445.6V450M535.54 441.61H543.68M535.54 439.41V443.81M543.68 439.41V443.81M539.61 441.3V441.92M537.41 441.3H541.81M537.41 441.92H541.81M561.31 437.19H572.15M561.31 434.99V439.39M572.15 434.99V439.39M566.73 436.66V437.72M564.53 436.66H568.93M564.53 437.72H568.93M587.07 418.63H600.63M587.07 416.43V420.83M600.63 416.43V420.83M593.85 417.17V420.09M591.65 417.17H596.05M591.65 420.09H596.05M612.83 406.12H629.11M612.83 403.92V408.32M629.11 403.92V408.32M620.97 404.04V408.2M618.77 404.04H623.17M618.77 408.2H623.17M638.6 380.26H657.58M638.6 378.06V382.46M657.58 378.06V382.46M648.09 376.89V383.64M645.89 376.89H650.29M645.89 383.64H650.29M664.36 356.31H686.06M664.36 354.11V358.51M686.06 354.11V358.51M675.21 351.73V360.88M673.01 351.73H677.41M673.01 360.88H677.41M690.13 338.18H714.53M690.13 335.98V340.38M714.53 335.98V340.38M702.33 332.7V343.66M700.13 332.7H704.53M700.13 343.66H704.53M715.89 328.9H743.01M715.89 326.7V331.1M743.01 326.7V331.1M729.45 322.96V334.85M727.25 322.96H731.65M727.25 334.85H731.65" stroke="#7a7a7a" stroke-width="1" fill="none" clip-path="url(#clip-d)"/>
<polyline points="458.25,446.03 485.37,438.52 512.49,429.24 539.61,426.14 566.73,421.28 593.85,416.15 620.97,411.11 648.09,408.02 675.21,406.12 702.33,398.74 729.45,383.49" fill="none" stroke="#000" stroke-width="1.75" stroke-linejoin="round"/>
<circle cx="458.25" cy="446.03" r="3.35" fill="#fff" stroke="#000" stroke-width="1.1"/>
<circle cx="485.37" cy="438.52" r="3.35" fill="#fff" stroke="#000" stroke-width="1.1"/>
<circle cx="512.49" cy="429.24" r="3.35" fill="#fff" stroke="#000" stroke-width="1.1"/>
<circle cx="539.61" cy="426.14" r="3.35" fill="#fff" stroke="#000" stroke-width="1.1"/>
<circle cx="566.73" cy="421.28" r="3.35" fill="#fff" stroke="#000" stroke-width="1.1"/>
<circle cx="593.85" cy="416.15" r="3.35" fill="#fff" stroke="#000" stroke-width="1.1"/>
<circle cx="620.97" cy="411.11" r="3.35" fill="#fff" stroke="#000" stroke-width="1.1"/>
<circle cx="648.09" cy="408.02" r="3.35" fill="#fff" stroke="#000" stroke-width="1.1"/>
<circle cx="675.21" cy="406.12" r="3.35" fill="#fff" stroke="#000" stroke-width="1.1"/>
<circle cx="702.33" cy="398.74" r="3.35" fill="#fff" stroke="#000" stroke-width="1.1"/>
<circle cx="729.45" cy="383.49" r="3.35" fill="#fff" stroke="#000" stroke-width="1.1"/>
<polyline points="458.25,299.86 485.37,308.66 512.49,318.29 539.61,330.01 566.73,333.01 593.85,344.81 620.97,352.86 648.09,377.08 675.21,387.25 702.33,402.5 729.45,407.36" fill="none" stroke="#000" stroke-width="1.75" stroke-linejoin="round"/>
<path d="M458.25 295.36L462.25 303.36H454.25Z" fill="#000"/>
<path d="M485.37 304.16L489.37 312.16H481.37Z" fill="#000"/>
<path d="M512.49 313.79L516.49 321.79H508.49Z" fill="#000"/>
<path d="M539.61 325.51L543.61 333.51H535.61Z" fill="#000"/>
<path d="M566.73 328.51L570.73 336.51H562.73Z" fill="#000"/>
<path d="M593.85 340.31L597.85 348.31H589.85Z" fill="#000"/>
<path d="M620.97 348.36L624.97 356.36H616.97Z" fill="#000"/>
<path d="M648.09 372.58L652.09 380.58H644.09Z" fill="#000"/>
<path d="M675.21 382.75L679.21 390.75H671.21Z" fill="#000"/>
<path d="M702.33 398L706.33 406H698.33Z" fill="#000"/>
<path d="M729.45 402.86L733.45 410.86H725.45Z" fill="#000"/>
<polyline points="458.25,447.8 485.37,447.8 512.49,447.8 539.61,441.61 566.73,437.19 593.85,418.63 620.97,406.12 648.09,380.26 675.21,356.31 702.33,338.18 729.45,328.9" fill="none" stroke="#000" stroke-width="1.75" stroke-linejoin="round"/>
<circle cx="458.25" cy="447.8" r="3.7" fill="#000"/>
<circle cx="485.37" cy="447.8" r="3.7" fill="#000"/>
<circle cx="512.49" cy="447.8" r="3.7" fill="#000"/>
<circle cx="539.61" cy="441.61" r="3.7" fill="#000"/>
<circle cx="566.73" cy="437.19" r="3.7" fill="#000"/>
<circle cx="593.85" cy="418.63" r="3.7" fill="#000"/>
<circle cx="620.97" cy="406.12" r="3.7" fill="#000"/>
<circle cx="648.09" cy="380.26" r="3.7" fill="#000"/>
<circle cx="675.21" cy="356.31" r="3.7" fill="#000"/>
<circle cx="702.33" cy="338.18" r="3.7" fill="#000"/>
<circle cx="729.45" cy="328.9" r="3.7" fill="#000"/>
</g>
</svg>
</body></html>
